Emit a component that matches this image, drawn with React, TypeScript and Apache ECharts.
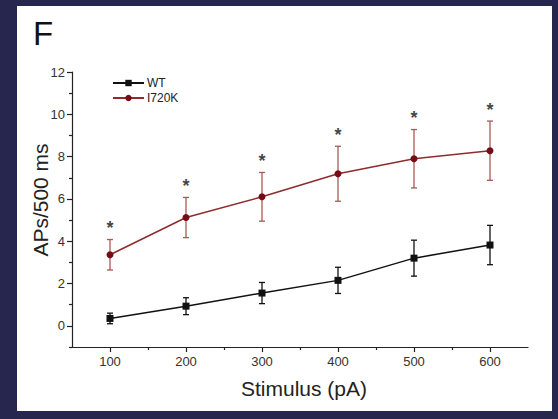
import React, { useEffect, useRef } from 'react';
import * as echarts from 'echarts';

const stimulus = [100, 200, 300, 400, 500, 600];
const wtMean = [0.35, 0.93, 1.55, 2.15, 3.2, 3.82];
const wtErr = [0.25, 0.4, 0.5, 0.62, 0.85, 0.93];
const mutMean = [3.36, 5.12, 6.1, 7.19, 7.9, 8.28];
const mutErr = [0.72, 0.95, 1.15, 1.3, 1.38, 1.4];
const significance = ['*', '*', '*', '*', '*', '*'];
const xTicks = [100, 200, 300, 400, 500, 600];
const xMinorTicks = [150, 250, 350, 450, 550];
const yTicks = [0, 2, 4, 6, 8, 10, 12];
const yMinorTicks = [-1, 1, 3, 5, 7, 9, 11];

const FONT = 'Liberation Sans, Arial, sans-serif';
const AXIS_COLOR = '#222';
const WT_COLOR = '#111';
const MUT_LINE = '#8e2c2c';
const MUT_MARK = '#760c14';
const MUT_ERR = '#a65a58';

function errorSeries(name: string, mean: number[], err: number[], color: string) {
  return {
    type: 'custom',
    name,
    z: 1,
    silent: true,
    encode: { x: 0, y: [1, 2] },
    data: stimulus.map((s, i) => [s, mean[i] - err[i], mean[i] + err[i]]),
    renderItem: (params: any, api: any) => {
      const x = api.value(0);
      const top = api.coord([x, api.value(2)]);
      const bot = api.coord([x, api.value(1)]);
      const hw = 3;
      const style = { stroke: color, lineWidth: 1.3 };
      return {
        type: 'group',
        children: [
          { type: 'line', shape: { x1: top[0], y1: top[1], x2: bot[0], y2: bot[1] }, style },
          { type: 'line', shape: { x1: top[0] - hw, y1: top[1], x2: top[0] + hw, y2: top[1] }, style },
          { type: 'line', shape: { x1: bot[0] - hw, y1: bot[1], x2: bot[0] + hw, y2: bot[1] }, style },
        ],
      };
    },
  };
}

export default function App() {
  const ref = useRef<HTMLDivElement>(null);
  useEffect(() => {
    if (!ref.current) return;
    const chart = echarts.init(ref.current, null, { renderer: 'svg' });
    const tickLine = { color: AXIS_COLOR, width: 1.2 };
    chart.setOption({
      animation: false,
      backgroundColor: '#ffffff',
      grid: { left: 55, top: 66, right: 24, bottom: 64, containLabel: false },
      legend: {
        data: ['WT', 'I720K'],
        orient: 'vertical',
        left: 95,
        top: 71,
        padding: 0,
        itemWidth: 31,
        itemHeight: 8,
        itemGap: 3,
        textStyle: { fontFamily: FONT, fontSize: 12, color: '#222', padding: [0, 0, 0, -2] },
      },
      graphic: [
        {
          type: 'text',
          left: 16,
          top: 11,
          style: { text: 'F', fontFamily: FONT, fontSize: 33, fill: '#111' },
        },
        {
          type: 'text',
          x: 23,
          y: 194,
          rotation: Math.PI / 2,
          style: {
            text: 'APs/500 ms',
            fontFamily: FONT,
            fontSize: 21,
            fill: '#222',
            align: 'center',
            verticalAlign: 'middle',
          },
        },
        {
          type: 'text',
          x: 287,
          y: 382,
          style: {
            text: 'Stimulus (pA)',
            fontFamily: FONT,
            fontSize: 21,
            fill: '#222',
            align: 'center',
            verticalAlign: 'middle',
          },
        },
      ],
      xAxis: [
        {
          type: 'value',
          min: 50,
          max: 650,
          position: 'bottom',
          axisLine: { show: true, onZero: false, lineStyle: tickLine },
          axisTick: { show: true, length: 5, customValues: xTicks, lineStyle: tickLine },
          axisLabel: { customValues: xTicks, fontFamily: FONT, fontSize: 13, color: '#333', margin: 8 },
          splitLine: { show: false },
        },
        {
          type: 'value',
          min: 50,
          max: 650,
          position: 'bottom',
          axisLine: { show: false, onZero: false },
          axisTick: { show: true, length: 3, customValues: xMinorTicks, lineStyle: tickLine },
          axisLabel: { show: false },
          splitLine: { show: false },
        },
      ],
      yAxis: [
        {
          type: 'value',
          min: -1,
          max: 12,
          position: 'left',
          axisLine: { show: true, onZero: false, lineStyle: tickLine },
          axisTick: { show: true, length: 5, customValues: yTicks, lineStyle: tickLine },
          axisLabel: { customValues: yTicks, fontFamily: FONT, fontSize: 13, color: '#333', margin: 7 },
          splitLine: { show: false },
        },
        {
          type: 'value',
          min: -1,
          max: 12,
          position: 'left',
          axisLine: { show: false, onZero: false },
          axisTick: { show: true, length: 3, customValues: yMinorTicks, lineStyle: tickLine },
          axisLabel: { show: false },
          splitLine: { show: false },
        },
      ],
      series: [
        errorSeries('WT err', wtMean, wtErr, WT_COLOR),
        errorSeries('I720K err', mutMean, mutErr, MUT_ERR),
        {
          type: 'line',
          name: 'WT',
          z: 3,
          data: stimulus.map((s, i) => [s, wtMean[i]]),
          symbol: 'rect',
          symbolSize: 7,
          color: WT_COLOR,
          lineStyle: { color: WT_COLOR, width: 1.5 },
          itemStyle: { color: WT_COLOR },
        },
        {
          type: 'line',
          name: 'I720K',
          z: 3,
          data: stimulus.map((s, i) => [s, mutMean[i]]),
          symbol: 'circle',
          symbolSize: 7,
          color: MUT_LINE,
          lineStyle: { color: MUT_LINE, width: 1.5 },
          itemStyle: { color: MUT_MARK },
        },
        {
          type: 'scatter',
          name: 'sig',
          z: 4,
          silent: true,
          symbol: 'circle',
          symbolSize: 1,
          itemStyle: { color: 'rgba(0,0,0,0)' },
          data: stimulus.map((s, i) => [s, mutMean[i] + mutErr[i]]),
          label: {
            show: true,
            position: 'top',
            distance: 2,
            formatter: (p: any) => significance[p.dataIndex],
            fontFamily: FONT,
            fontSize: 18,
            fontWeight: 'bold',
            color: '#111',
          },
        },
      ],
    });
    return () => chart.dispose();
  }, []);
  return (
    <div
      style={{
        position: 'fixed',
        left: 0,
        top: 0,
        width: 558,
        height: 419,
        background: '#26264f',
      }}
    >
      <div
        ref={ref}
        style={{ position: 'absolute', left: 17, top: 6, width: 535, height: 405, background: '#fff' }}
      />
    </div>
  );
}
